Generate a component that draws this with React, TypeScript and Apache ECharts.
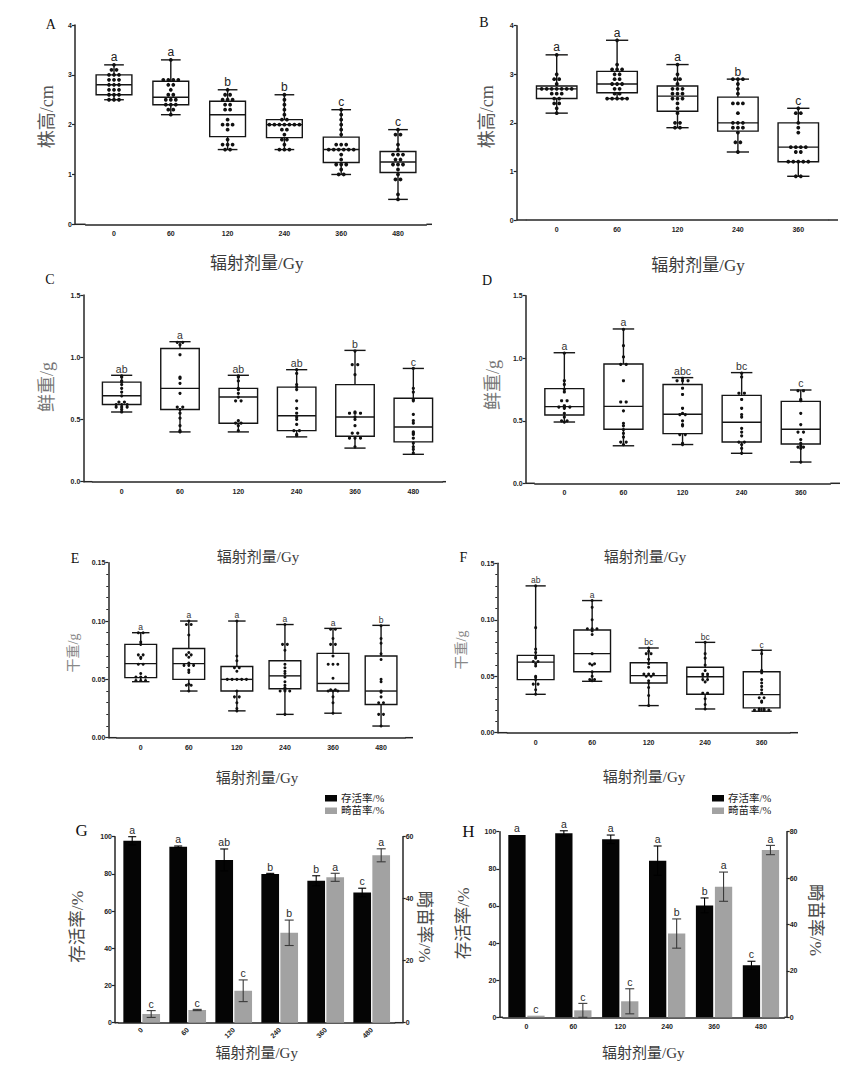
import React, { useEffect, useRef } from 'react';
import * as echarts from 'echarts';

// ---------------- data ----------------
const dosesSix = ['0', '60', '120', '240', '360', '480'];
const dosesFive = ['0', '60', '120', '240', '360'];

// box stats: [min, Q1, median, Q3, max]
const heightA_box = [
  [2.5, 2.6, 2.8, 3.0, 3.2],
  [2.2, 2.4, 2.55, 2.87, 3.3],
  [1.5, 1.76, 2.2, 2.47, 2.7],
  [1.5, 1.74, 2.0, 2.1, 2.6],
  [1.0, 1.24, 1.5, 1.75, 2.3],
  [0.5, 1.04, 1.25, 1.46, 1.9],
];
const heightA_pts = [
  [3.2, 3.1, 3.1, 3.0, 3.0, 3.0, 2.9, 2.9, 2.9, 2.8, 2.8, 2.8, 2.7, 2.7, 2.7, 2.6, 2.6, 2.6, 2.5, 2.5, 2.5],
  [3.3, 2.9, 2.9, 2.9, 2.9, 2.8, 2.8, 2.7, 2.6, 2.6, 2.5, 2.5, 2.5, 2.4, 2.4, 2.4, 2.3, 2.3, 2.2],
  [2.7, 2.6, 2.6, 2.5, 2.5, 2.5, 2.4, 2.4, 2.3, 2.3, 2.1, 2.0, 2.0, 2.0, 1.9, 1.7, 1.6, 1.6, 1.6, 1.5, 1.5],
  [2.6, 2.5, 2.4, 2.3, 2.2, 2.1, 2.1, 2.0, 2.0, 2.0, 2.0, 2.0, 2.0, 2.0, 1.9, 1.9, 1.8, 1.7, 1.7, 1.6, 1.5, 1.5, 1.5],
  [2.3, 2.2, 2.1, 2.0, 1.9, 1.8, 1.6, 1.6, 1.6, 1.5, 1.5, 1.5, 1.5, 1.5, 1.5, 1.4, 1.3, 1.2, 1.2, 1.2, 1.1, 1.0, 1.0],
  [1.9, 1.8, 1.8, 1.6, 1.5, 1.4, 1.4, 1.4, 1.3, 1.3, 1.2, 1.2, 1.2, 1.1, 1.0, 0.9, 0.9, 0.6, 0.5],
];
const heightA_letters = ['a', 'a', 'b', 'b', 'c', 'c'];

const heightB_box = [
  [2.2, 2.5, 2.7, 2.76, 3.4],
  [2.5, 2.62, 2.8, 3.06, 3.7],
  [1.9, 2.24, 2.55, 2.76, 3.2],
  [1.4, 1.83, 2.0, 2.53, 2.9],
  [0.9, 1.2, 1.5, 2.0, 2.3],
];
const heightB_pts = [
  [3.4, 3.0, 2.9, 2.9, 2.8, 2.7, 2.7, 2.7, 2.7, 2.7, 2.7, 2.7, 2.6, 2.6, 2.6, 2.5, 2.5, 2.4, 2.4, 2.3, 2.2],
  [3.7, 3.2, 3.1, 3.1, 3.1, 3.0, 3.0, 2.9, 2.9, 2.8, 2.8, 2.8, 2.7, 2.7, 2.6, 2.6, 2.5, 2.5, 2.5, 2.5, 2.5],
  [3.2, 3.0, 2.9, 2.9, 2.8, 2.7, 2.7, 2.7, 2.6, 2.6, 2.6, 2.5, 2.5, 2.5, 2.4, 2.3, 2.2, 2.0, 2.0, 1.9, 1.9],
  [2.9, 2.9, 2.9, 2.8, 2.7, 2.6, 2.4, 2.4, 2.4, 2.2, 2.0, 2.0, 2.0, 1.9, 1.9, 1.9, 1.8, 1.6, 1.6, 1.4],
  [2.3, 2.2, 2.2, 2.0, 1.9, 1.8, 1.5, 1.5, 1.5, 1.5, 1.4, 1.4, 1.2, 1.2, 1.2, 1.2, 1.2, 0.9, 0.9],
];
const heightB_letters = ['a', 'a', 'a', 'b', 'c'];

const freshC_box = [
  [0.56, 0.62, 0.69, 0.8, 0.855],
  [0.4, 0.58, 0.75, 1.07, 1.125],
  [0.4, 0.47, 0.68, 0.75, 0.855],
  [0.36, 0.41, 0.53, 0.76, 0.9],
  [0.27, 0.365, 0.52, 0.78, 1.055],
  [0.22, 0.32, 0.44, 0.67, 0.91],
];
const freshC_pts = [
  [0.85, 0.84, 0.81, 0.8, 0.78, 0.75, 0.72, 0.69, 0.64, 0.64, 0.62, 0.62, 0.62, 0.6, 0.6, 0.6, 0.58, 0.56],
  [1.12, 1.12, 1.1, 1.02, 0.84, 0.83, 0.79, 0.71, 0.6, 0.6, 0.58, 0.55, 0.51, 0.45, 0.41, 0.4],
  [0.85, 0.84, 0.81, 0.75, 0.74, 0.71, 0.68, 0.65, 0.65, 0.49, 0.47, 0.47, 0.45, 0.41],
  [0.9, 0.87, 0.78, 0.76, 0.74, 0.65, 0.59, 0.55, 0.52, 0.5, 0.46, 0.41, 0.41, 0.38, 0.37],
  [1.05, 0.94, 0.94, 0.86, 0.56, 0.55, 0.55, 0.55, 0.52, 0.5, 0.45, 0.39, 0.39, 0.35, 0.35, 0.35, 0.28],
  [0.91, 0.75, 0.72, 0.66, 0.65, 0.54, 0.49, 0.47, 0.4, 0.39, 0.38, 0.35, 0.31, 0.28, 0.26, 0.23],
];
const freshC_letters = ['ab', 'a', 'ab', 'ab', 'b', 'c'];

const freshD_box = [
  [0.49, 0.546, 0.613, 0.757, 1.044],
  [0.3, 0.432, 0.615, 0.954, 1.234],
  [0.31, 0.397, 0.552, 0.79, 0.845],
  [0.24, 0.33, 0.488, 0.703, 0.885],
  [0.17, 0.314, 0.432, 0.655, 0.746],
];
const freshD_pts = [
  [1.04, 0.82, 0.79, 0.75, 0.73, 0.66, 0.66, 0.62, 0.61, 0.61, 0.61, 0.6, 0.56, 0.53, 0.5, 0.5, 0.49],
  [1.23, 1.1, 1.01, 0.95, 0.95, 0.82, 0.65, 0.65, 0.58, 0.48, 0.46, 0.43, 0.4, 0.37, 0.33, 0.33, 0.31],
  [0.84, 0.82, 0.82, 0.82, 0.76, 0.71, 0.6, 0.56, 0.55, 0.55, 0.5, 0.47, 0.46, 0.39, 0.39, 0.32, 0.31],
  [0.88, 0.85, 0.72, 0.72, 0.67, 0.6, 0.55, 0.53, 0.44, 0.41, 0.38, 0.33, 0.33, 0.31, 0.28, 0.24],
  [0.74, 0.74, 0.67, 0.66, 0.56, 0.47, 0.41, 0.41, 0.35, 0.32, 0.3, 0.29, 0.29, 0.28, 0.17],
];
const freshD_letters = ['a', 'a', 'abc', 'bc', 'c'];

const dryE_box = [
  [0.048, 0.0515, 0.0635, 0.08, 0.09],
  [0.04, 0.05, 0.0635, 0.0765, 0.1],
  [0.023, 0.04, 0.05, 0.061, 0.1],
  [0.02, 0.042, 0.053, 0.066, 0.097],
  [0.021, 0.04, 0.0465, 0.0723, 0.0937],
  [0.01, 0.0285, 0.04, 0.07, 0.0963],
];
const dryE_pts = [
  [0.09, 0.09, 0.082, 0.08, 0.071, 0.071, 0.069, 0.068, 0.063, 0.063, 0.055, 0.052, 0.052, 0.052, 0.049, 0.049, 0.049],
  [0.1, 0.097, 0.097, 0.088, 0.073, 0.071, 0.071, 0.069, 0.064, 0.062, 0.062, 0.062, 0.058, 0.056, 0.046, 0.045, 0.045, 0.04],
  [0.1, 0.07, 0.066, 0.06, 0.06, 0.057, 0.05, 0.05, 0.05, 0.05, 0.05, 0.04, 0.035, 0.035, 0.03, 0.025, 0.023],
  [0.097, 0.08, 0.08, 0.075, 0.063, 0.06, 0.057, 0.055, 0.052, 0.048, 0.045, 0.043, 0.041, 0.04, 0.04, 0.04, 0.02],
  [0.093, 0.093, 0.085, 0.08, 0.08, 0.07, 0.063, 0.063, 0.063, 0.051, 0.041, 0.041, 0.04, 0.04, 0.04, 0.035, 0.03, 0.021],
  [0.096, 0.085, 0.081, 0.072, 0.067, 0.05, 0.048, 0.04, 0.039, 0.035, 0.03, 0.03, 0.02, 0.02, 0.01],
];
const dryE_letters = ['a', 'a', 'a', 'a', 'a', 'b'];

const dryF_box = [
  [0.034, 0.047, 0.0625, 0.0685, 0.13],
  [0.0455, 0.054, 0.07, 0.091, 0.117],
  [0.024, 0.044, 0.0505, 0.062, 0.075],
  [0.021, 0.034, 0.0495, 0.058, 0.08],
  [0.019, 0.022, 0.0337, 0.054, 0.073],
];
const dryF_pts = [
  [0.13, 0.093, 0.074, 0.071, 0.067, 0.066, 0.063, 0.063, 0.061, 0.059, 0.05, 0.049, 0.047, 0.043, 0.043, 0.038, 0.034],
  [0.117, 0.111, 0.1, 0.092, 0.092, 0.092, 0.09, 0.087, 0.07, 0.061, 0.061, 0.06, 0.054, 0.05, 0.047, 0.047, 0.046],
  [0.075, 0.072, 0.07, 0.07, 0.065, 0.061, 0.058, 0.052, 0.052, 0.052, 0.05, 0.05, 0.046, 0.044, 0.04, 0.033, 0.024],
  [0.08, 0.07, 0.066, 0.06, 0.055, 0.052, 0.052, 0.05, 0.05, 0.047, 0.047, 0.045, 0.035, 0.035, 0.03, 0.025, 0.021],
  [0.073, 0.07, 0.055, 0.053, 0.047, 0.044, 0.041, 0.038, 0.035, 0.031, 0.031, 0.028, 0.027, 0.021, 0.021, 0.02, 0.02, 0.02, 0.02],
];
const dryF_letters = ['ab', 'a', 'bc', 'bc', 'c'];

// survival / abnormal seedling rates
const survG = [97.8, 94.6, 87.5, 80.0, 76.3, 70.0];
const survG_err = [2.2, 0.4, 5.9, 0.3, 2.7, 2.3];
const survG_letters = ['a', 'a', 'ab', 'b', 'b', 'c'];
const abnG = [2.8, 4.1, 10.3, 29.0, 46.9, 54.0];
const abnG_err = [1.1, 0.2, 3.5, 4.1, 1.3, 2.1];
const abnG_letters = ['c', 'c', 'c', 'b', 'a', 'a'];

const survH = [98.2, 99.1, 95.9, 84.4, 60.3, 28.0];
const survH_err = [0, 1.4, 2.3, 7.9, 4.0, 2.2];
const survH_letters = ['a', 'a', 'a', 'a', 'b', 'c'];
const abnH = [0.7, 3.0, 6.9, 36.1, 56.3, 72.1];
const abnH_err = [0, 3.0, 5.4, 6.3, 6.3, 2.0];
const abnH_letters = ['c', 'c', 'c', 'b', 'a', 'a'];

const SURV_NAME = '存活率/%';
const ABN_NAME = '畸苗率/%';
const XTITLE = '辐射剂量/Gy';

// ---------------- styling / layout ----------------
const SERIF = "'Liberation Serif','Noto Sans CJK SC',serif";
const SANS = "'Liberation Sans',Arial,'Noto Sans CJK SC',sans-serif";
const AXIS = '#262626';
const INK = '#151515';

type BoxPanel = {
  cats: string[];
  box: number[][];
  pts: number[][];
  letters: string[];
  max: number;
  interval: number;
  decimals: number;
  minor: boolean;
  grid: { left: number; top: number; width: number; height: number };
  axisX: number;
  xEnd: number;
  boxFrac: number;
  dotR: number;
  dotGap: number;
  letterSize: number;
  letterColor: string;
};

const boxPanels: BoxPanel[] = [
  { cats: dosesSix, box: heightA_box, pts: heightA_pts, letters: heightA_letters, max: 4, interval: 1, decimals: 0, minor: false,
    grid: { left: 85.6, top: 25, width: 340.8, height: 199.3 }, axisX: 75, xEnd: 432, boxFrac: 0.63, dotR: 1.9, dotGap: 5, letterSize: 12, letterColor: '#222' },
  { cats: dosesFive, box: heightB_box, pts: heightB_pts, letters: heightB_letters, max: 4, interval: 1, decimals: 0, minor: false,
    grid: { left: 526.5, top: 25.7, width: 302, height: 194.3 }, axisX: 516.7, xEnd: 838, boxFrac: 0.67, dotR: 1.9, dotGap: 5, letterSize: 12, letterColor: '#222' },
  { cats: dosesSix, box: freshC_box, pts: freshC_pts, letters: freshC_letters, max: 1.5, interval: 0.5, decimals: 1, minor: false,
    grid: { left: 92.5, top: 295, width: 350, height: 186.7 }, axisX: 83.3, xEnd: 446, boxFrac: 0.66, dotR: 1.6, dotGap: 5.5, letterSize: 10.5, letterColor: '#333' },
  { cats: dosesFive, box: freshD_box, pts: freshD_pts, letters: freshD_letters, max: 1.5, interval: 0.5, decimals: 1, minor: false,
    grid: { left: 534.8, top: 295.7, width: 295.5, height: 187.6 }, axisX: 525.7, xEnd: 840, boxFrac: 0.66, dotR: 1.6, dotGap: 5.5, letterSize: 10.5, letterColor: '#333' },
  { cats: dosesSix, box: dryE_box, pts: dryE_pts, letters: dryE_letters, max: 0.15, interval: 0.05, decimals: 2, minor: true,
    grid: { left: 116.7, top: 562.7, width: 288.4, height: 175 }, axisX: 108.3, xEnd: 413, boxFrac: 0.66, dotR: 1.5, dotGap: 4.8, letterSize: 8.5, letterColor: '#333' },
  { cats: dosesFive, box: dryF_box, pts: dryF_pts, letters: dryF_letters, max: 0.15, interval: 0.05, decimals: 2, minor: true,
    grid: { left: 507.4, top: 563.3, width: 282.5, height: 169.4 }, axisX: 497.3, xEnd: 798, boxFrac: 0.65, dotR: 1.5, dotGap: 4.8, letterSize: 8.5, letterColor: '#333' },
];

type BarPanel = {
  surv: number[]; survErr: number[]; survLetters: string[];
  abn: number[]; abnErr: number[]; abnLetters: string[];
  rightMax: number;
  grid: { left: number; top: number; width: number; height: number };
  leftAxisX: number; rightAxisX: number;
  barW: number; gapPx: number; rotate: number; labelMargin: number;
  legend: { left: number; top: number };
};

const barPanels: BarPanel[] = [
  { surv: survG, survErr: survG_err, survLetters: survG_letters, abn: abnG, abnErr: abnG_err, abnLetters: abnG_letters,
    rightMax: 60, grid: { left: 118.7, top: 836.7, width: 276, height: 186 }, leftAxisX: 115, rightAxisX: 402.7,
    barW: 17.7, gapPx: 1.3, rotate: 45, labelMargin: 6, legend: { left: 320, top: 788 } },
  { surv: survH, survErr: survH_err, survLetters: survH_letters, abn: abnH, abnErr: abnH_err, abnLetters: abnH_letters,
    rightMax: 80, grid: { left: 503, top: 831.7, width: 281.4, height: 185.6 }, leftAxisX: 499.3, rightAxisX: 786.7,
    barW: 17.3, gapPx: 1.7, rotate: 0, labelMargin: 6, legend: { left: 707, top: 788 } },
];

const titles = [
  // x titles
  { t: XTITLE, x: 256.7, y: 263.3, s: 17, r: 0, c: '#3a3a3a' },
  { t: XTITLE, x: 698, y: 265, s: 17, r: 0, c: '#3a3a3a' },
  { t: XTITLE, x: 258, y: 557, s: 15, r: 0, c: '#3a3a3a' },
  { t: XTITLE, x: 645, y: 557, s: 15, r: 0, c: '#3a3a3a' },
  { t: XTITLE, x: 257, y: 778, s: 15, r: 0, c: '#3a3a3a' },
  { t: XTITLE, x: 644, y: 776.7, s: 15, r: 0, c: '#3a3a3a' },
  { t: XTITLE, x: 256.7, y: 1053, s: 15, r: 0, c: '#3a3a3a' },
  { t: XTITLE, x: 643.3, y: 1053.3, s: 15, r: 0, c: '#3a3a3a' },
  // y titles
  { t: '株高/cm', x: 46.7, y: 116.7, s: 18, r: 90, c: '#555' },
  { t: '株高/cm', x: 486.7, y: 116.7, s: 18, r: 90, c: '#555' },
  { t: '鲜重/g', x: 46.7, y: 387, s: 18, r: 90, c: '#777' },
  { t: '鲜重/g', x: 493, y: 385, s: 18, r: 90, c: '#777' },
  { t: '干重/g', x: 73, y: 653, s: 14, r: 90, c: '#888' },
  { t: '干重/g', x: 461.7, y: 650, s: 14, r: 90, c: '#888' },
  { t: SURV_NAME, x: 76.7, y: 926.7, s: 17.5, r: 90, c: '#4a4a4a' },
  { t: ABN_NAME, x: 425, y: 926.7, s: 17.5, r: -90, c: '#4a4a4a' },
  { t: SURV_NAME, x: 463.3, y: 923.3, s: 17.5, r: 90, c: '#4a4a4a' },
  { t: ABN_NAME, x: 816, y: 920, s: 17.5, r: -90, c: '#4a4a4a' },
  // panel letters
  { t: 'A', x: 50.7, y: 24, s: 14, r: 0, c: '#111' },
  { t: 'B', x: 484, y: 22.7, s: 14, r: 0, c: '#111' },
  { t: 'C', x: 50, y: 279, s: 14, r: 0, c: '#111' },
  { t: 'D', x: 487, y: 280, s: 14, r: 0, c: '#111' },
  { t: 'E', x: 75, y: 558, s: 14, r: 0, c: '#111' },
  { t: 'F', x: 463.3, y: 557, s: 14, r: 0, c: '#111' },
  { t: 'G', x: 81.7, y: 830, s: 17, r: 0, c: '#111' },
  { t: 'H', x: 468.3, y: 831.7, s: 17, r: 0, c: '#111' },
];

// ---------------- option builders ----------------
function tickLabel(decimals: number) {
  return {
    fontSize: 7, fontWeight: 'bold' as const, color: '#222', fontFamily: SANS, margin: 3,
    formatter: (v: number) => v.toFixed(decimals),
  };
}

function boxRenderer(p: BoxPanel) {
  return (params: any, api: any) => {
    const i = api.value(0);
    const mn = api.value(1), q1 = api.value(2), md = api.value(3), q3 = api.value(4), mx = api.value(5);
    const band = api.size([1, 0])[0];
    const bw = band * p.boxFrac;
    const cw = bw * 0.55;
    const cx = api.coord([i, md])[0];
    const yOf = (v: number) => api.coord([i, v])[1];
    const ls = { stroke: INK, lineWidth: 1.4 };
    const ch: any[] = [
      { type: 'line', shape: { x1: cx, y1: yOf(mx), x2: cx, y2: yOf(q3) }, style: ls },
      { type: 'line', shape: { x1: cx, y1: yOf(q1), x2: cx, y2: yOf(mn) }, style: ls },
      { type: 'line', shape: { x1: cx - cw / 2, y1: yOf(mx), x2: cx + cw / 2, y2: yOf(mx) }, style: ls },
      { type: 'line', shape: { x1: cx - cw / 2, y1: yOf(mn), x2: cx + cw / 2, y2: yOf(mn) }, style: ls },
      { type: 'rect', shape: { x: cx - bw / 2, y: yOf(q3), width: bw, height: yOf(q1) - yOf(q3) }, style: { fill: 'none', stroke: INK, lineWidth: 1.4 } },
      { type: 'line', shape: { x1: cx - bw / 2, y1: yOf(md), x2: cx + bw / 2, y2: yOf(md) }, style: ls },
    ];
    const pts = p.pts[i] || [];
    const counts = new Map<number, number>();
    pts.forEach((v) => counts.set(v, (counts.get(v) || 0) + 1));
    const seen = new Map<number, number>();
    pts.forEach((v) => {
      const n = counts.get(v) || 1;
      const k = seen.get(v) || 0;
      seen.set(v, k + 1);
      const dx = (k - (n - 1) / 2) * p.dotGap;
      ch.push({ type: 'circle', shape: { cx: cx + dx, cy: yOf(v), r: p.dotR }, style: { fill: '#111' } });
    });
    ch.push({
      type: 'text',
      style: {
        text: p.letters[i], x: cx, y: yOf(mx) - 1.5,
        align: 'center', verticalAlign: 'bottom', textAlign: 'center', textVerticalAlign: 'bottom',
        fontSize: p.letterSize, fontFamily: SANS, fill: p.letterColor,
      },
    });
    return { type: 'group', children: ch };
  };
}

function errRenderer(letters: string[], offset: number, errColor: string, capW: number, letterSize: number) {
  return (params: any, api: any) => {
    const i = api.value(0), v = api.value(1), e = api.value(2);
    const x = api.coord([i, v])[0] + offset;
    const yT = api.coord([i, v + e])[1];
    const yB = api.coord([i, Math.max(0, v - e)])[1];
    const ls = { stroke: errColor, lineWidth: 1.1 };
    const ch: any[] = [];
    if (e > 0) {
      ch.push({ type: 'line', shape: { x1: x, y1: yT, x2: x, y2: yB }, style: ls });
      ch.push({ type: 'line', shape: { x1: x - capW / 2, y1: yT, x2: x + capW / 2, y2: yT }, style: ls });
      ch.push({ type: 'line', shape: { x1: x - capW / 2, y1: yB, x2: x + capW / 2, y2: yB }, style: ls });
    }
    ch.push({
      type: 'text',
      style: {
        text: letters[i], x, y: yT - 1.5,
        align: 'center', verticalAlign: 'bottom', textAlign: 'center', textVerticalAlign: 'bottom',
        fontSize: letterSize, fontFamily: SANS, fill: '#2a2a2a',
      },
    });
    return { type: 'group', children: ch };
  };
}

function buildOption() {
  const grid: any[] = [];
  const xAxis: any[] = [];
  const yAxis: any[] = [];
  const series: any[] = [];
  const graphic: any[] = [];
  const legend: any[] = [];
  const axisLine = { show: true, lineStyle: { color: AXIS, width: 1.5 } };

  boxPanels.forEach((p, k) => {
    grid.push({ ...p.grid, outerBoundsMode: 'none', containLabel: false });
    xAxis.push({
      type: 'category', gridIndex: k, data: p.cats,
      axisLine, axisTick: { show: false },
      axisLabel: { fontSize: 7, fontWeight: 'bold', color: '#222', fontFamily: SANS, margin: 6, interval: 0 },
      splitLine: { show: false },
    });
    yAxis.push({
      type: 'value', gridIndex: k, min: 0, max: p.max, interval: p.interval,
      offset: p.grid.left - p.axisX,
      axisLine, axisTick: { show: true, length: 3, lineStyle: { color: AXIS, width: 1.2 } },
      minorTick: { show: p.minor, splitNumber: 5, length: 2, lineStyle: { color: AXIS, width: 1 } },
      axisLabel: tickLabel(p.decimals), splitLine: { show: false }, minorSplitLine: { show: false },
    });
    series.push({
      type: 'custom', xAxisIndex: k, yAxisIndex: k, silent: true, clip: false,
      data: p.box.map((s, i) => [i, ...s]),
      encode: { x: 0, y: [1, 2, 3, 4, 5] },
      renderItem: boxRenderer(p),
    });
    const yb = p.grid.top + p.grid.height;
    graphic.push({ type: 'line', shape: { x1: p.axisX, y1: yb, x2: p.grid.left, y2: yb }, style: { stroke: AXIS, lineWidth: 1.5 }, silent: true });
    graphic.push({ type: 'line', shape: { x1: p.grid.left + p.grid.width, y1: yb, x2: p.xEnd, y2: yb }, style: { stroke: AXIS, lineWidth: 1.5 }, silent: true });
  });

  barPanels.forEach((p, j) => {
    const gi = boxPanels.length + j;
    const yl = boxPanels.length + j * 2;
    grid.push({ ...p.grid, outerBoundsMode: 'none', containLabel: false });
    xAxis.push({
      type: 'category', gridIndex: gi, data: dosesSix,
      axisLine, axisTick: { show: false },
      axisLabel: { fontSize: 7, fontWeight: 'bold', color: '#222', fontFamily: SANS, margin: p.labelMargin, rotate: p.rotate, interval: 0 },
    });
    yAxis.push({
      type: 'value', gridIndex: gi, position: 'left', min: 0, max: 100, interval: 20,
      offset: p.grid.left - p.leftAxisX,
      axisLine, axisTick: { show: true, length: 3, lineStyle: { color: AXIS, width: 1.2 } },
      axisLabel: tickLabel(0), splitLine: { show: false },
    });
    yAxis.push({
      type: 'value', gridIndex: gi, position: 'right', min: 0, max: p.rightMax, interval: 20,
      offset: p.rightAxisX - (p.grid.left + p.grid.width),
      axisLine, axisTick: { show: true, length: 3, lineStyle: { color: AXIS, width: 1.2 } },
      axisLabel: tickLabel(0), splitLine: { show: false },
    });
    const gapPct = ((p.gapPx / p.barW) * 100).toFixed(1) + '%';
    series.push({
      type: 'bar', name: SURV_NAME, xAxisIndex: gi, yAxisIndex: yl, data: p.surv,
      barWidth: p.barW, barGap: gapPct, itemStyle: { color: '#050505' }, silent: true,
    });
    series.push({
      type: 'bar', name: ABN_NAME, xAxisIndex: gi, yAxisIndex: yl + 1, data: p.abn,
      barWidth: p.barW, barGap: gapPct, itemStyle: { color: '#a2a2a2' }, silent: true,
    });
    const off = (p.barW + p.gapPx) / 2;
    series.push({
      type: 'custom', name: 'err-s', xAxisIndex: gi, yAxisIndex: yl, silent: true, clip: false, z: 5,
      data: p.surv.map((v, i) => [i, v, p.survErr[i]]), encode: { x: 0, y: 1 },
      renderItem: errRenderer(p.survLetters, -off, '#000', 8, 10.5),
    });
    series.push({
      type: 'custom', name: 'err-a', xAxisIndex: gi, yAxisIndex: yl + 1, silent: true, clip: false, z: 5,
      data: p.abn.map((v, i) => [i, v, p.abnErr[i]]), encode: { x: 0, y: 1 },
      renderItem: errRenderer(p.abnLetters, off, '#3a3a3a', 9, 10.5),
    });
    legend.push({
      left: p.legend.left, top: p.legend.top, orient: 'vertical', itemWidth: 12, itemHeight: 6.5, itemGap: 2,
      icon: 'rect', selectedMode: false, data: [SURV_NAME, ABN_NAME],
      textStyle: { fontFamily: SERIF, fontSize: 10.5, color: '#222', padding: [0, 0, 0, -1] },
    });
    const yb = p.grid.top + p.grid.height;
    graphic.push({ type: 'line', shape: { x1: p.leftAxisX, y1: yb, x2: p.grid.left, y2: yb }, style: { stroke: AXIS, lineWidth: 1.5 }, silent: true });
    graphic.push({ type: 'line', shape: { x1: p.grid.left + p.grid.width, y1: yb, x2: p.rightAxisX, y2: yb }, style: { stroke: AXIS, lineWidth: 1.5 }, silent: true });
  });

  titles.forEach((t) => {
    graphic.push({
      type: 'text', x: t.x, y: t.y, rotation: (t.r * Math.PI) / 180, silent: true,
      style: {
        text: t.t, x: 0, y: 0, align: 'center', verticalAlign: 'middle', textAlign: 'center', textVerticalAlign: 'middle',
        fontSize: t.s, fontFamily: SERIF, fill: t.c,
      },
    });
  });

  return {
    animation: false,
    backgroundColor: '#ffffff',
    textStyle: { fontFamily: SANS },
    grid, xAxis, yAxis, series, legend, graphic,
  };
}

export default function App() {
  const ref = useRef<HTMLDivElement>(null);
  useEffect(() => {
    if (!ref.current) return;
    const chart = echarts.init(ref.current, null, { renderer: 'svg' });
    chart.setOption(buildOption() as any);
    return () => chart.dispose();
  }, []);
  return (
    <div
      ref={ref}
      style={{ position: 'absolute', left: 0, top: 0, width: 854, height: 1080, background: '#fff' }}
    />
  );
}
